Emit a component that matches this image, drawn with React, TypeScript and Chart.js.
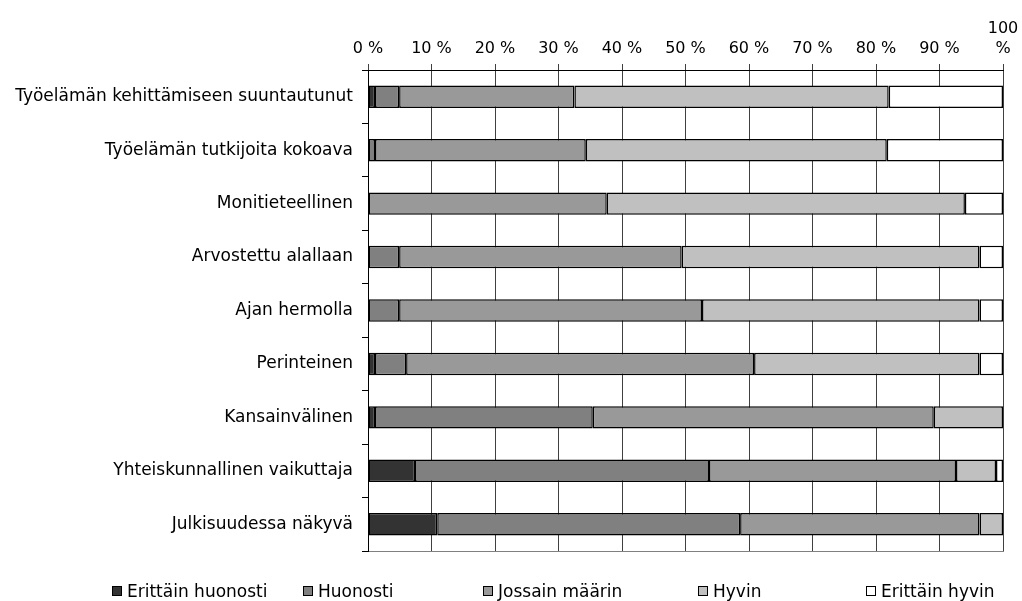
import React, { useEffect, useRef } from 'react';
import { Chart, registerables } from 'chart.js';

Chart.register(...registerables);

const categories = [
  'Työelämän kehittämiseen suuntautunut',
  'Työelämän tutkijoita kokoava',
  'Monitieteellinen',
  'Arvostettu alallaan',
  'Ajan hermolla',
  'Perinteinen',
  'Kansainvälinen',
  'Yhteiskunnallinen vaikuttaja',
  'Julkisuudessa näkyvä',
];

const seriesNames = ['Erittäin huonosti', 'Huonosti', 'Jossain määrin', 'Hyvin', 'Erittäin hyvin'];

const erittainHuonosti = [1.1, 0, 0, 0, 0, 1.1, 1.1, 7.4, 10.9];
const huonosti = [3.8, 1.1, 0, 4.9, 4.9, 4.9, 34.3, 46.3, 47.7];
const jossainMaarin = [27.6, 33.2, 37.6, 44.5, 47.7, 54.8, 53.7, 38.9, 37.7];
const hyvin = [49.5, 47.4, 56.4, 46.9, 43.7, 35.5, 10.9, 6.3, 3.7];
const erittainHyvin = [18.0, 18.3, 6.0, 3.7, 3.7, 3.7, 0, 1.1, 0];

const xTicks = [0, 10, 20, 30, 40, 50, 60, 70, 80, 90, 100];

const colors = ['#333333', '#808080', '#999999', '#c0c0c0', '#ffffff'];

const legendLefts = [112, 303, 483, 698, 866];

const FONT = 'DejaVu Sans';

export default function App() {
  const ref = useRef<HTMLCanvasElement | null>(null);

  useEffect(() => {
    if (!ref.current) return;
    const values = [erittainHuonosti, huonosti, jossainMaarin, hyvin, erittainHyvin];
    const labelFont = { family: FONT, size: 17 };
    const tickFont = { family: FONT, size: 16 };
    const chart = new Chart(ref.current, {
      type: 'bar',
      data: {
        labels: categories,
        datasets: values.map((v, i) => ({
          label: seriesNames[i],
          data: v,
          backgroundColor: colors[i],
          borderColor: '#000000',
          borderWidth: 1.5,
          borderSkipped: false,
          barPercentage: 0.42,
          categoryPercentage: 1,
          xAxisID: 'x',
        })),
      },
      options: {
        indexAxis: 'y',
        animation: false,
        responsive: true,
        maintainAspectRatio: false,
        layout: { padding: { left: 8, right: 19, top: 0, bottom: 50 } },
        scales: {
          x: {
            position: 'top',
            stacked: true,
            min: 0,
            max: 100,
            afterBuildTicks: (s: any) => {
              s.ticks = xTicks.map((v) => ({ value: v }));
            },
            afterFit: (s: any) => {
              s.height = 70;
              s.paddingRight = 0;
              s.paddingLeft = 0;
            },
            ticks: {
              autoSkip: false,
              maxRotation: 0,
              padding: 6,
              color: '#000',
              font: tickFont,
              callback: (v: any) => (Number(v) === 100 ? ['100', '%'] : v + ' %'),
            },
            grid: { color: '#404040', lineWidth: 1, tickLength: 6 },
            border: { color: '#000', width: 1 },
          },
          xb: {
            type: 'linear',
            position: 'bottom',
            min: 0,
            max: 100,
            afterFit: (s: any) => {
              s.height = 0;
              s.paddingRight = 0;
              s.paddingLeft = 0;
            },
            ticks: { display: false },
            grid: { display: false, drawTicks: false },
            border: { display: true, color: '#808080', width: 1 },
          },
          y: {
            stacked: true,
            afterFit: (s: any) => {
              s.width = 360;
            },
            ticks: { color: '#000', font: labelFont, padding: 9 },
            grid: { offset: true, drawOnChartArea: false, drawTicks: true, tickLength: 6, color: '#000' },
            border: { color: '#000', width: 1 },
          },
        },
        plugins: {
          legend: { display: false },
          tooltip: { enabled: false },
        },
      },
    });
    return () => chart.destroy();
  }, []);

  return (
    <div style={{ position: 'absolute', left: 0, top: 0, width: 1022, height: 601, background: '#fff' }}>
      <canvas ref={ref} />
      {seriesNames.map((name, i) => (
        <div
          key={name}
          style={{
            position: 'absolute',
            left: legendLefts[i],
            top: 580,
            height: 22,
            display: 'flex',
            alignItems: 'center',
            fontFamily: FONT,
            fontSize: 17,
            color: '#000',
            whiteSpace: 'nowrap',
          }}
        >
          <span
            style={{
              display: 'inline-block',
              width: 8,
              height: 8,
              border: '1px solid #000',
              background: colors[i],
              marginRight: 5,
            }}
          />
          {name}
        </div>
      ))}
    </div>
  );
}
